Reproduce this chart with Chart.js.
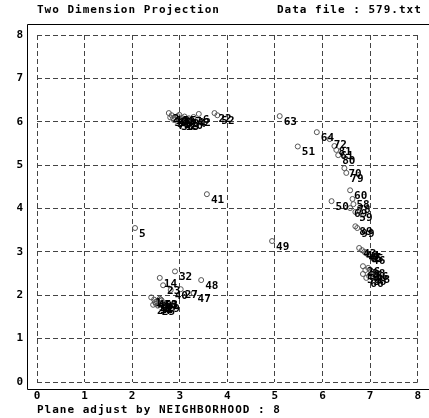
<!DOCTYPE html>
<html>
<head>
<meta charset="utf-8">
<script src="https://cdn.jsdelivr.net/npm/chart.js@4/dist/chart.umd.min.js"></script>
<style>
  html, body { margin: 0; padding: 0; background: #fff; }
  #wrap { width: 429px; height: 418px; }
</style>
</head>
<body>
<div id="wrap"><canvas id="myChart" width="429" height="418"></canvas></div>
<script>
// projected samples: id, x, y
let pointIds = [
  "2", "11", "15", "3", "17", "9", "20", "7", "34", "13", "42", "6", "22", "52",
  "30", "31", "33", "35", "37",
  "63", "64", "51", "72", "81", "61", "80", "70", "79",
  "60", "50", "58", "78", "69", "59", "89", "99",
  "43", "44", "45", "65", "46",
  "26", "36", "56", "28", "16", "38", "18", "66",
  "5", "41", "49",
  "32", "14", "48", "23", "40", "27", "47",
  "1", "4", "8", "10", "12", "19", "21", "24", "25", "29", "39", "53"
];
let pointX = [
  2.77, 2.83, 2.90, 2.96, 3.00, 3.06, 3.13, 2.88, 3.19, 3.04, 3.29, 3.40, 3.73, 3.79,
  2.80, 2.86, 2.94, 2.99, 3.10,
  5.10, 5.88, 5.48, 6.15, 6.25, 6.29, 6.33, 6.46, 6.50,
  6.58, 6.19, 6.63, 6.65, 6.58, 6.69, 6.69, 6.73,
  6.77, 6.83, 6.88, 6.92, 6.96,
  6.85, 6.90, 6.85, 6.96, 7.02, 6.98, 7.06, 6.92,
  2.06, 3.57, 4.94,
  2.90, 2.58, 3.45, 2.65, 2.81, 3.02, 3.29,
  2.40, 2.46, 2.52, 2.58, 2.50, 2.56, 2.62, 2.44, 2.54, 2.64, 2.48, 2.60
];
let pointY = [
  6.20, 6.15, 6.11, 6.13, 6.06, 6.08, 6.04, 6.04, 6.08, 6.01, 6.11, 6.18, 6.20, 6.15,
  6.10, 6.08, 6.02, 6.16, 6.12,
  6.13, 5.76, 5.43, 5.60, 5.44, 5.35, 5.23, 4.93, 4.82,
  4.42, 4.17, 4.22, 4.10, 4.01, 3.92, 3.59, 3.55,
  3.09, 3.04, 3.00, 2.97, 2.93,
  2.67, 2.58, 2.49, 2.63, 2.56, 2.44, 2.49, 2.40,
  3.55, 4.33, 3.25,
  2.55, 2.40, 2.35, 2.23, 2.12, 2.14, 2.05,
  1.95, 1.90, 1.86, 1.92, 1.80, 1.83, 1.88, 1.78, 1.76, 1.82, 1.84, 1.90
];
let tickValues = [0, 1, 2, 3, 4, 5, 6, 7, 8];

let titleLeft = "Two Dimension Projection";
let titleRight = "Data file : 579.txt";
let footerText = "Plane adjust by NEIGHBORHOOD : 8";

let monoFont = "'DejaVu Sans Mono', 'Liberation Mono', monospace";

let aPoints = [];
for (let i = 0; i < pointIds.length; i++) {
  aPoints.push({x: pointX[i], y: pointY[i], id: pointIds[i]});
}

// solid frame left/top/bottom, plus the header and footer lines
let framePlugin = {
  id: 'frame',
  afterDraw(chart) {
    let ctx = chart.ctx;
    let a = chart.chartArea;
    ctx.save();
    ctx.strokeStyle = '#000';
    ctx.lineWidth = 1;
    ctx.beginPath();
    ctx.moveTo(chart.width, a.top - 10.5);
    ctx.lineTo(a.left - 9.5, a.top - 10.5);
    ctx.lineTo(a.left - 9.5, a.bottom + 7.5);
    ctx.lineTo(chart.width, a.bottom + 7.5);
    ctx.stroke();

    ctx.fillStyle = '#000';
    ctx.font = "bold 11px " + monoFont;
    ctx.letterSpacing = '1px';
    ctx.textBaseline = 'middle';
    ctx.textAlign = 'left';
    ctx.fillText(titleLeft, 37, 10);
    ctx.fillText(titleRight, 277, 10);
    ctx.fillText(footerText, 37, 410);
    ctx.restore();
  }
};

// id text next to every point
let labelPlugin = {
  id: 'pointIds',
  afterDatasetsDraw(chart) {
    let ctx = chart.ctx;
    let meta = chart.getDatasetMeta(0);
    ctx.save();
    ctx.fillStyle = '#000';
    ctx.font = "bold 11px " + monoFont;
    ctx.textBaseline = 'middle';
    ctx.textAlign = 'left';
    meta.data.forEach(function (el, i) {
      ctx.fillText(aPoints[i].id, el.x + 4, el.y + 6);
    });
    ctx.restore();
  }
};

function axisOptions(fitFn, pad) {
  return {
    type: 'linear',
    min: 0,
    max: 8,
    afterBuildTicks: function (scale) {
      scale.ticks = tickValues.map(v => ({value: v}));
    },
    afterFit: fitFn,
    grid: {
      color: '#444',
      lineWidth: 1,
      drawTicks: false,
      borderDash: [5, 3]
    },
    border: {display: false, dash: [5, 3]},
    ticks: {
      padding: pad,
      color: '#000',
      font: {family: monoFont, size: 11, weight: 'bold'}
    }
  };
}

var ctx = document.getElementById('myChart').getContext('2d');
var myScatter = new Chart(ctx, {
  type: 'scatter',
  data: {
    datasets: [{
      data: aPoints,
      pointStyle: 'circle',
      pointRadius: 2.5,
      pointBorderWidth: 1,
      pointBorderColor: '#555',
      pointBackgroundColor: 'rgba(255,255,255,0)'
    }]
  },
  options: {
    responsive: false,
    animation: false,
    layout: {
      padding: {left: 7, right: 8, top: 35, bottom: 0}
    },
    plugins: {
      legend: {display: false},
      tooltip: {enabled: false}
    },
    scales: {
      x: axisOptions(function (scale) { scale.height = 36; }, 8),
      y: axisOptions(function (scale) { scale.width = 30; }, 14)
    }
  },
  plugins: [framePlugin, labelPlugin]
});
</script>
</body>
</html>
